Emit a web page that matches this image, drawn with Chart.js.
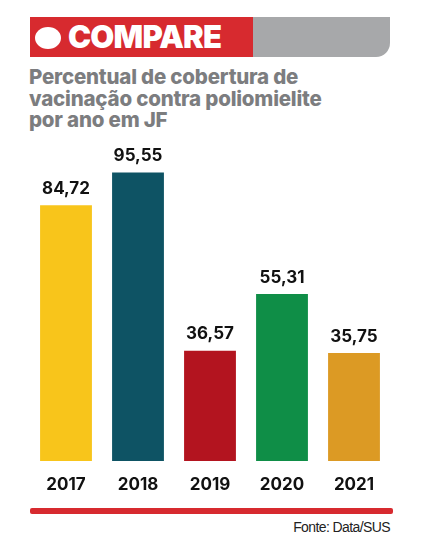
<!DOCTYPE html><html><head><meta charset="utf-8">
<script src="https://cdn.jsdelivr.net/npm/chart.js@4"></script>
<style>
body{margin:0;width:427px;height:552px;background:#fff;position:relative;font-family:Inter,"Liberation Sans",sans-serif;overflow:hidden}
#red{position:absolute;left:30px;top:17px;width:223px;height:40px;background:#d72a2f}
#gray{position:absolute;left:253px;top:17px;width:137px;height:40px;background:#a7a8aa;border-bottom-right-radius:14px}
#hd{position:absolute;left:35px;top:16px;color:#fff;font:900 31px Inter,sans-serif;letter-spacing:-0.8px;line-height:42px}
#hd span{display:inline-block;width:26px;height:22px;border-radius:50%;background:#fff;margin-right:7px;vertical-align:-1px}
#t{position:absolute;left:29px;top:66px;color:#7c7d7f;font:800 20.5px Inter,sans-serif;line-height:21.5px;letter-spacing:-0.2px}
#line{position:absolute;left:30px;top:508px;width:363px;height:6px;background:#d72a2f;border-radius:2px}
#src{position:absolute;right:37px;top:519px;font:14px "Liberation Sans",sans-serif;color:#222;letter-spacing:-0.6px}
#wrap{position:absolute;left:30px;top:129px;width:360px;height:372px}
</style></head><body>
<div id="red"></div><div id="gray"></div>
<div id="hd"><span></span>COMPARE</div>
<div id="t">Percentual de cobertura de<br>vacinação contra poliomielite<br>por ano em JF</div>
<div id="wrap"><canvas id="c"></canvas></div>
<div id="line"></div>
<div id="src">Fonte: Data/SUS</div>
<script>
const years=["2017","2018","2019","2020","2021"];
const values=[84.72,95.55,36.57,55.31,35.75];
const colors=["#f8c51b","#0e5364","#b3141f","#0f8e47","#dc9a24"];
const lbl={id:"lbl",afterDatasetsDraw(ch){const c=ch.ctx,m=ch.getDatasetMeta(0);c.save();c.fillStyle="#111";c.textAlign="center";
m.data.forEach((b,i)=>{c.font="bold 17px Inter,sans-serif";c.textBaseline="bottom";c.fillText(values[i].toFixed(2).replace(".",","),b.x,b.y-8);
c.textBaseline="middle";c.fillText(years[i],b.x,ch.chartArea.bottom+24);});c.restore();}};
new Chart(document.getElementById("c"),{type:"bar",data:{labels:years,datasets:[{data:values,backgroundColor:colors,categoryPercentage:0.8,barPercentage:0.9}]},
options:{responsive:true,maintainAspectRatio:false,animation:false,layout:{padding:{bottom:40}},plugins:{legend:{display:false},tooltip:{enabled:false}},
scales:{x:{display:false},y:{display:false,min:0,max:110}}},plugins:[lbl]});
</script></body></html>
